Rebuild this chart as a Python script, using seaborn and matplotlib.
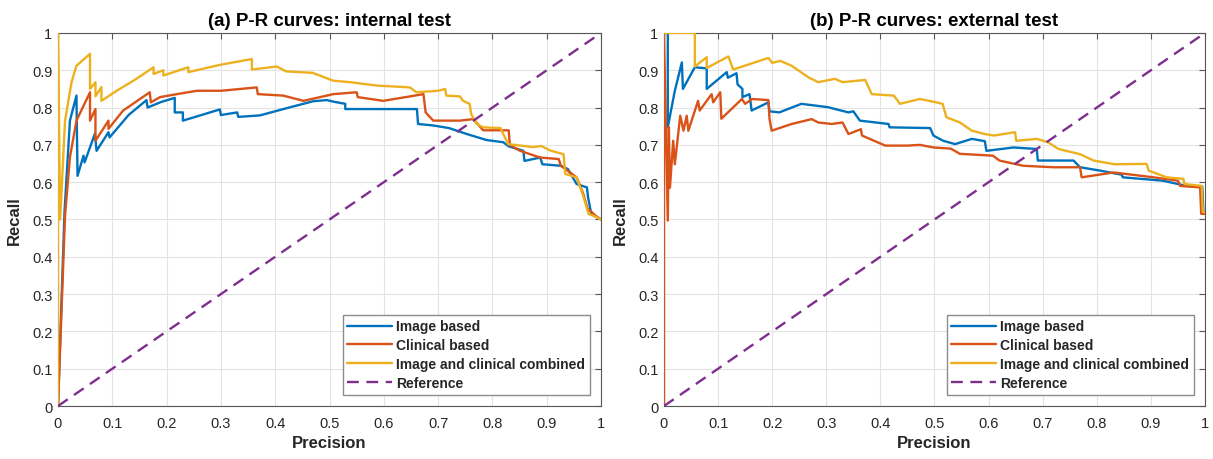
import matplotlib
matplotlib.use("Agg")
import matplotlib.pyplot as plt
import seaborn as sns
import pandas as pd

# ---------------- data ----------------
series_names = ["Image based", "Clinical based", "Image and clinical combined", "Reference"]
colors = ["#0072BD", "#D95319", "#EDB120", "#7E2F8E"]
ticks = [0, 0.1, 0.2, 0.3, 0.4, 0.5, 0.6, 0.7, 0.8, 0.9, 1]
tick_labels = ["0", "0.1", "0.2", "0.3", "0.4", "0.5", "0.6", "0.7", "0.8", "0.9", "1"]
titles = ["(a) P-R curves: internal test", "(b) P-R curves: external test"]

# internal test
img_int_x = [0, 0.012, 0.022, 0.034, 0.036, 0.047, 0.049, 0.068, 0.071, 0.093, 0.095, 0.13, 0.163,
             0.165, 0.19, 0.215, 0.215, 0.23, 0.23, 0.262, 0.298, 0.300, 0.33, 0.332, 0.372, 0.415,
             0.47, 0.495, 0.51, 0.529, 0.529, 0.60, 0.661, 0.663, 0.691, 0.72, 0.753, 0.789, 0.82,
             0.83, 0.857, 0.859, 0.888, 0.892, 0.926, 0.939, 0.955, 0.974, 0.976, 0.982, 1.0]
img_int_y = [0, 0.52, 0.765, 0.832, 0.617, 0.671, 0.653, 0.73, 0.684, 0.734, 0.72, 0.78, 0.82,
             0.80, 0.815, 0.826, 0.787, 0.787, 0.765, 0.779, 0.795, 0.78, 0.787, 0.775, 0.779, 0.796,
             0.817, 0.82, 0.815, 0.81, 0.796, 0.796, 0.796, 0.756, 0.752, 0.745, 0.729, 0.713, 0.707,
             0.696, 0.684, 0.657, 0.666, 0.648, 0.644, 0.635, 0.595, 0.586, 0.56, 0.515, 0.50]

cli_int_x = [0, 0.013, 0.022, 0.034, 0.059, 0.059, 0.069, 0.069, 0.093, 0.093, 0.12, 0.169, 0.171,
             0.188, 0.219, 0.256, 0.30, 0.366, 0.368, 0.415, 0.452, 0.507, 0.55, 0.552, 0.599, 0.673,
             0.677, 0.691, 0.74, 0.765, 0.783, 0.83, 0.832, 0.851, 0.888, 0.922, 0.926, 0.955, 0.967,
             0.975, 0.99, 1.0]
cli_int_y = [0, 0.51, 0.667, 0.765, 0.841, 0.765, 0.796, 0.711, 0.765, 0.743, 0.792, 0.841, 0.814,
             0.828, 0.836, 0.845, 0.845, 0.854, 0.836, 0.832, 0.818, 0.836, 0.841, 0.828, 0.818, 0.836,
             0.787, 0.765, 0.765, 0.769, 0.739, 0.739, 0.70, 0.684, 0.666, 0.662, 0.644, 0.613, 0.57,
             0.53, 0.51, 0.5]

com_int_x = [0, 0, 0.004, 0.013, 0.025, 0.034, 0.059, 0.059, 0.069, 0.069, 0.08, 0.08, 0.108, 0.139,
             0.176, 0.176, 0.194, 0.194, 0.24, 0.24, 0.30, 0.357, 0.357, 0.403, 0.42, 0.469, 0.507,
             0.538, 0.587, 0.648, 0.66, 0.70, 0.713, 0.715, 0.74, 0.746, 0.758, 0.761, 0.771, 0.783,
             0.815, 0.82, 0.829, 0.875, 0.89, 0.906, 0.931, 0.934, 0.955, 0.967, 0.977, 0.992, 1.0]
com_int_y = [0, 1.0, 0.5, 0.765, 0.868, 0.912, 0.944, 0.85, 0.868, 0.83, 0.855, 0.818, 0.845, 0.872,
             0.908, 0.89, 0.90, 0.886, 0.908, 0.895, 0.915, 0.930, 0.902, 0.91, 0.897, 0.893, 0.872,
             0.868, 0.859, 0.854, 0.841, 0.845, 0.85, 0.832, 0.83, 0.818, 0.81, 0.782, 0.756, 0.747,
             0.745, 0.729, 0.702, 0.694, 0.697, 0.685, 0.675, 0.622, 0.613, 0.564, 0.515, 0.506, 0.5]

# external test
img_ext_x = [0, 0.007, 0.007, 0.02, 0.033, 0.035, 0.057, 0.079, 0.079, 0.116, 0.118, 0.134, 0.136,
             0.145, 0.145, 0.158, 0.162, 0.193, 0.195, 0.213, 0.254, 0.303, 0.341, 0.35, 0.362, 0.415,
             0.417, 0.492, 0.498, 0.516, 0.538, 0.569, 0.593, 0.596, 0.646, 0.689, 0.691, 0.757, 0.769,
             0.806, 0.846, 0.848, 0.922, 0.966, 0.995, 0.997, 1.0]
img_ext_y = [1.0, 1.0, 0.747, 0.845, 0.921, 0.85, 0.908, 0.905, 0.85, 0.895, 0.88, 0.892, 0.862,
             0.85, 0.828, 0.836, 0.792, 0.814, 0.79, 0.787, 0.81, 0.801, 0.787, 0.79, 0.765, 0.756,
             0.747, 0.745, 0.725, 0.711, 0.702, 0.716, 0.71, 0.684, 0.693, 0.689, 0.658, 0.658, 0.64,
             0.631, 0.62, 0.613, 0.604, 0.59, 0.588, 0.52, 0.52]

cli_ext_x = [0, 0, 0.007, 0.009, 0.011, 0.017, 0.02, 0.03, 0.036, 0.042, 0.045, 0.063, 0.066, 0.088,
             0.091, 0.104, 0.106, 0.144, 0.15, 0.163, 0.193, 0.195, 0.199, 0.236, 0.273, 0.285, 0.31,
             0.33, 0.341, 0.364, 0.366, 0.409, 0.45, 0.473, 0.498, 0.53, 0.547, 0.608, 0.62, 0.664,
             0.72, 0.769, 0.772, 0.831, 0.905, 0.95, 0.954, 0.991, 0.993, 1.0]
cli_ext_y = [0, 1.0, 0.497, 0.747, 0.585, 0.711, 0.648, 0.778, 0.738, 0.778, 0.738, 0.818, 0.792, 0.836,
             0.814, 0.841, 0.77, 0.823, 0.81, 0.823, 0.82, 0.77, 0.738, 0.756, 0.769, 0.76, 0.756,
             0.76, 0.729, 0.742, 0.725, 0.698, 0.698, 0.70, 0.693, 0.69, 0.676, 0.671, 0.658, 0.644,
             0.64, 0.64, 0.613, 0.626, 0.613, 0.604, 0.59, 0.586, 0.515, 0.515]

com_ext_x = [0, 0.057, 0.057, 0.079, 0.079, 0.119, 0.128, 0.193, 0.20, 0.215, 0.236, 0.267, 0.285,
             0.316, 0.33, 0.372, 0.384, 0.425, 0.436, 0.473, 0.50, 0.515, 0.522, 0.547, 0.569, 0.593,
             0.61, 0.649, 0.651, 0.689, 0.71, 0.729, 0.769, 0.794, 0.833, 0.892, 0.896, 0.929, 0.96,
             0.962, 0.994, 0.996, 1.0]
com_ext_y = [1.0, 1.0, 0.91, 0.935, 0.906, 0.937, 0.902, 0.933, 0.92, 0.925, 0.912, 0.881, 0.868,
             0.877, 0.868, 0.874, 0.836, 0.832, 0.81, 0.823, 0.815, 0.81, 0.774, 0.76, 0.738, 0.729,
             0.725, 0.734, 0.711, 0.716, 0.707, 0.689, 0.675, 0.658, 0.648, 0.649, 0.631, 0.613, 0.609,
             0.595, 0.59, 0.52, 0.52]

ref_x = [0, 1]
ref_y = [0, 1]

panels = [
    [(img_int_x, img_int_y), (cli_int_x, cli_int_y), (com_int_x, com_int_y), (ref_x, ref_y)],
    [(img_ext_x, img_ext_y), (cli_ext_x, cli_ext_y), (com_ext_x, com_ext_y), (ref_x, ref_y)],
]

# ---------------- style ----------------
sns.set_style("white")
plt.rcParams["font.family"] = ["Liberation Sans", "DejaVu Sans"]

fig = plt.figure(figsize=(12.13, 4.6), dpi=100)
rects = [[0.0478, 0.1152, 0.4477, 0.811], [0.5474, 0.1152, 0.446, 0.811]]

for p, rect in enumerate(rects):
    ax = fig.add_axes(rect)
    for i, (xs, ys) in enumerate(panels[p]):
        df = pd.DataFrame({"Precision": xs, "Recall": ys})
        sns.lineplot(data=df, x="Precision", y="Recall", ax=ax, sort=False, estimator=None,
                     color=colors[i], linewidth=1.7, label=series_names[i],
                     linestyle="--" if i == 3 else "-",
                     dashes=False, zorder=3 + i)
    ax.lines[3].set_dashes([5, 3.2])
    ax.set_xlim(0, 1)
    ax.set_ylim(0, 1)
    ax.set_xticks(ticks)
    ax.set_xticklabels(tick_labels)
    ax.set_yticks(ticks)
    ax.set_yticklabels(tick_labels)
    ax.grid(True, color="#e3e3e3", linewidth=0.8, zorder=0)
    ax.set_axisbelow(True)
    for s in ax.spines.values():
        s.set_color("#555555")
        s.set_linewidth(0.8)
        s.set_visible(True)
    ax.tick_params(direction="in", top=True, right=True, length=4, width=0.8,
                   color="#555555", labelcolor="#262626", labelsize=10.5)
    ax.tick_params(axis="x", pad=7)
    ax.tick_params(axis="y", pad=4)
    ax.set_xlabel("Precision", fontsize=12, fontweight="bold", color="#262626", labelpad=4)
    ax.set_ylabel("Recall", fontsize=12, fontweight="bold", color="#262626", labelpad=7)
    ax.set_title(titles[p], fontsize=13.5, fontweight="bold", color="black", pad=6)
    leg = ax.legend(loc="lower right", prop={"weight": "bold", "size": 10},
                    frameon=True, fancybox=False, framealpha=1, edgecolor="#8c8c8c",
                    handlelength=3.2, handletextpad=0.3, labelspacing=0.35,
                    borderpad=0.35, borderaxespad=0.8)
    leg.get_frame().set_linewidth(1.0)

fig.savefig("out.png", dpi=100)
